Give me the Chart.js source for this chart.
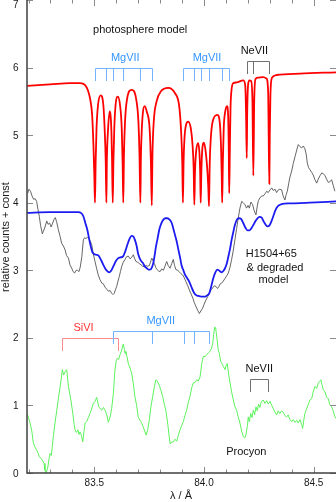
<!DOCTYPE html>
<html>
<head>
<meta charset="utf-8">
<script src="https://cdn.jsdelivr.net/npm/chart.js@4.4.0/dist/chart.umd.min.js"></script>
<style>
html, body { margin: 0; padding: 0; background: #fff; }
canvas { display: block; }
</style>
</head>
<body>
<canvas id="spektrum" width="336" height="502"></canvas>
<script>
// photosphere model (red)
const modelX = [83.193, 83.298, 83.389, 83.435, 83.458, 83.471, 83.480, 83.490, 83.496, 83.500, 83.503,
  83.506, 83.510, 83.517, 83.529, 83.541, 83.547, 83.552, 83.555,
  83.557, 83.562, 83.570, 83.578, 83.581, 83.584,
  83.587, 83.591, 83.597, 83.607, 83.617, 83.625, 83.629, 83.632,
  83.635, 83.640, 83.649, 83.670, 83.691, 83.701, 83.706, 83.710,
  83.712, 83.716, 83.722, 83.730, 83.739, 83.752, 83.758, 83.762,
  83.765, 83.771, 83.784, 83.804, 83.837, 83.868, 83.886, 83.895, 83.901, 83.904,
  83.907, 83.911, 83.918, 83.928, 83.940, 83.948, 83.953, 83.956,
  83.959, 83.964, 83.973, 83.980, 83.983, 83.985,
  83.988, 83.992, 84.000, 84.008, 84.016, 84.020, 84.023,
  84.026, 84.031, 84.041, 84.061, 84.073, 84.078, 84.081, 84.083,
  84.086, 84.090, 84.097, 84.105, 84.110, 84.113, 84.115,
  84.118, 84.121, 84.126, 84.134, 84.149, 84.179, 84.188, 84.192, 84.195,
  84.197, 84.201, 84.207, 84.215, 84.221, 84.225,
  84.229, 84.235, 84.246, 84.270, 84.285, 84.293, 84.295, 84.298,
  84.300, 84.303, 84.310, 84.331, 84.438, 84.602];
const modelY = [5.73, 5.75, 5.77, 5.77, 5.74, 5.66, 5.55, 5.30, 4.85, 4.40, 4.00,
  4.60, 5.10, 5.45, 5.59, 5.45, 5.10, 4.60, 4.00,
  4.60, 5.05, 5.35, 5.05, 4.60, 4.00,
  4.60, 5.10, 5.45, 5.57, 5.45, 5.10, 4.60, 4.00,
  4.70, 5.20, 5.53, 5.67, 5.53, 5.20, 4.70, 4.00,
  4.60, 5.05, 5.35, 5.43, 5.35, 5.10, 4.60, 3.96,
  4.70, 5.20, 5.50, 5.65, 5.70, 5.62, 5.45, 5.10, 4.60, 4.00,
  4.60, 4.95, 5.15, 5.20, 5.10, 4.85, 4.50, 3.97,
  4.45, 4.75, 4.88, 4.70, 4.40, 4.00,
  4.45, 4.78, 4.89, 4.75, 4.45, 4.20, 3.95,
  4.55, 4.95, 5.22, 5.30, 5.15, 4.80, 4.40, 4.00,
  4.60, 5.10, 5.35, 5.43, 5.30, 4.80, 4.14,
  4.80, 5.40, 5.68, 5.77, 5.78, 5.81, 5.74, 5.30, 4.66,
  5.30, 5.74, 5.81, 5.80, 5.50, 4.40,
  5.50, 5.83, 5.85, 5.86, 5.84, 5.60, 5.00, 4.28,
  5.00, 5.60, 5.85, 5.89, 5.91, 5.93];

// H1504+65 observed (grey)
const obsX = [83.196, 83.202, 83.209, 83.216, 83.223, 83.230, 83.237, 83.243, 83.249, 83.255,
  83.263, 83.268, 83.275, 83.283, 83.289, 83.296, 83.303, 83.310, 83.316, 83.322,
  83.328, 83.336, 83.344, 83.351, 83.359, 83.367, 83.373, 83.382, 83.389, 83.397,
  83.403, 83.410, 83.417, 83.423, 83.430, 83.436, 83.443, 83.450, 83.455, 83.462,
  83.469, 83.477, 83.483, 83.488, 83.495, 83.503, 83.511, 83.518, 83.526, 83.534,
  83.541, 83.549, 83.557, 83.564, 83.572, 83.579, 83.585, 83.591, 83.597, 83.602,
  83.608, 83.614, 83.619, 83.625, 83.632, 83.640, 83.647, 83.655, 83.663, 83.670,
  83.678, 83.684, 83.690, 83.697, 83.705, 83.713, 83.721, 83.728, 83.736, 83.743,
  83.751, 83.756, 83.762, 83.768, 83.774, 83.780, 83.786, 83.793, 83.800, 83.807,
  83.815, 83.822, 83.830, 83.837, 83.845, 83.853, 83.860, 83.866, 83.872, 83.880,
  83.887, 83.895, 83.903, 83.910, 83.918, 83.926, 83.933, 83.941, 83.949, 83.956,
  83.964, 83.971, 83.979, 83.986, 83.994, 84.001, 84.009, 84.017, 84.024, 84.032,
  84.040, 84.047, 84.055, 84.062, 84.068, 84.074, 84.081, 84.088, 84.096, 84.104,
  84.111, 84.119, 84.126, 84.134, 84.141, 84.149, 84.156, 84.164, 84.172, 84.179,
  84.187, 84.194, 84.201, 84.207, 84.214, 84.222, 84.229, 84.237, 84.243, 84.248,
  84.255, 84.263, 84.270, 84.278, 84.286, 84.293, 84.301, 84.309, 84.316, 84.324,
  84.331, 84.339, 84.346, 84.354, 84.361, 84.369, 84.375, 84.380, 84.386, 84.392,
  84.400, 84.407, 84.415, 84.423, 84.430, 84.438, 84.445, 84.453, 84.460, 84.466,
  84.471, 84.477, 84.483, 84.491, 84.498, 84.506, 84.514, 84.521, 84.529, 84.537,
  84.544, 84.552, 84.559, 84.567, 84.574, 84.582, 84.589, 84.597];
const obsY = [4.14, 4.20, 4.17, 4.10, 4.05, 4.06, 4.02, 3.90, 3.80, 3.66,
  3.54, 3.58, 3.64, 3.73, 3.68, 3.70, 3.64, 3.70, 3.75, 3.78,
  3.72, 3.60, 3.50, 3.40, 3.36, 3.30, 3.22, 3.18, 3.08, 3.03,
  2.98, 2.96, 3.00, 3.00, 2.98, 3.05, 3.20, 3.45, 3.48, 3.47,
  3.49, 3.46, 3.42, 3.38, 3.25, 3.13, 3.02, 2.93, 2.86, 2.81,
  2.80, 2.75, 2.72, 2.69, 2.70, 2.66, 2.64, 2.66, 2.72, 2.76,
  2.84, 2.91, 2.98, 3.06, 3.12, 3.16, 3.20, 3.21, 3.17, 3.19,
  3.23, 3.17, 3.13, 3.12, 3.10, 3.08, 3.06, 3.05, 3.07, 3.06,
  3.07, 3.12, 3.18, 3.14, 3.10, 3.04, 3.01, 2.99, 2.98, 3.02,
  3.00, 3.06, 3.13, 3.07, 3.03, 3.10, 3.16, 3.07, 3.01, 3.00,
  2.98, 2.95, 2.93, 2.89, 2.83, 2.77, 2.71, 2.65, 2.59, 2.52,
  2.46, 2.41, 2.36, 2.40, 2.44, 2.50, 2.56, 2.61, 2.66, 2.71,
  2.74, 2.77, 2.76, 2.73, 2.76, 2.80, 2.81, 2.84, 2.88, 2.92,
  2.96, 3.05, 3.16, 3.30, 3.45, 3.62, 3.77, 3.92, 4.02, 4.00,
  3.97, 3.92, 3.96, 3.92, 4.01, 3.97, 3.88, 3.82, 3.95, 4.03,
  4.07, 4.10, 4.10, 4.13, 4.17, 4.15, 4.19, 4.22, 4.18, 4.20,
  4.15, 4.19, 4.20, 4.19, 4.10, 4.04, 4.12, 4.17, 4.28, 4.38,
  4.47, 4.58, 4.68, 4.78, 4.86, 4.83, 4.81, 4.84, 4.80, 4.72,
  4.59, 4.52, 4.49, 4.45, 4.41, 4.34, 4.29, 4.35, 4.40, 4.44,
  4.43, 4.40, 4.35, 4.30, 4.31, 4.34, 4.26, 4.17];

// degraded model (blue)
const degX = [83.190, 83.298, 83.427, 83.439, 83.450, 83.459, 83.468, 83.476, 83.484, 83.491,
  83.499, 83.508, 83.518, 83.526, 83.534, 83.541, 83.549, 83.558, 83.567, 83.576,
  83.587, 83.597, 83.609, 83.619, 83.632, 83.641, 83.650, 83.660, 83.670, 83.678,
  83.685, 83.693, 83.700, 83.711, 83.721, 83.730, 83.739, 83.747, 83.754, 83.762,
  83.769, 83.775, 83.781, 83.789, 83.796, 83.805, 83.815, 83.824, 83.833, 83.843,
  83.853, 83.860, 83.868, 83.876, 83.883, 83.891, 83.898, 83.906, 83.913, 83.922,
  83.933, 83.942, 83.951, 83.961, 83.974, 83.989, 84.005, 84.015, 84.024, 84.033,
  84.042, 84.052, 84.061, 84.071, 84.081, 84.088, 84.096, 84.104, 84.111, 84.119,
  84.126, 84.134, 84.141, 84.150, 84.160, 84.169, 84.179, 84.189, 84.198, 84.207,
  84.216, 84.225, 84.235, 84.244, 84.253, 84.263, 84.271, 84.280, 84.289, 84.298,
  84.307, 84.316, 84.326, 84.337, 84.354, 84.392, 84.483, 84.605];
const degY = [3.85, 3.86, 3.86, 3.85, 3.80, 3.70, 3.60, 3.47, 3.35, 3.27,
  3.24, 3.23, 3.22, 3.18, 3.13, 3.08, 3.03, 2.99, 2.97, 2.99,
  3.06, 3.13, 3.18, 3.19, 3.21, 3.28, 3.37, 3.46, 3.51, 3.50,
  3.45, 3.36, 3.24, 3.15, 3.11, 3.06, 3.03, 3.01, 3.01, 3.04,
  3.11, 3.22, 3.35, 3.48, 3.60, 3.69, 3.75, 3.77, 3.77, 3.75,
  3.70, 3.62, 3.52, 3.42, 3.31, 3.19, 3.07, 3.00, 2.94, 2.89,
  2.83, 2.76, 2.69, 2.64, 2.62, 2.61, 2.61, 2.63, 2.66, 2.76,
  2.88, 2.97, 3.01, 2.99, 2.97, 2.99, 3.03, 3.10, 3.20, 3.32,
  3.45, 3.57, 3.67, 3.75, 3.77, 3.76, 3.70, 3.63, 3.59, 3.59,
  3.62, 3.67, 3.73, 3.77, 3.79, 3.78, 3.73, 3.68, 3.65, 3.66,
  3.72, 3.80, 3.89, 3.95, 3.98, 3.99, 4.00, 4.02];

// Procyon (green)
const procX = [83.192, 83.199, 83.207, 83.215, 83.222, 83.230, 83.237, 83.243, 83.249, 83.256,
  83.263, 83.271, 83.275, 83.280, 83.288, 83.294, 83.298, 83.304, 83.313, 83.321,
  83.329, 83.336, 83.344, 83.350, 83.354, 83.360, 83.367, 83.374, 83.382, 83.393,
  83.402, 83.408, 83.412, 83.418, 83.425, 83.430, 83.435, 83.441, 83.447, 83.453,
  83.458, 83.465, 83.473, 83.480, 83.488, 83.495, 83.503, 83.511, 83.520, 83.527,
  83.534, 83.541, 83.549, 83.557, 83.564, 83.572, 83.579, 83.587, 83.594, 83.600,
  83.605, 83.611, 83.617, 83.623, 83.628, 83.632, 83.637, 83.640, 83.644, 83.649,
  83.655, 83.663, 83.670, 83.678, 83.685, 83.693, 83.700, 83.708, 83.716, 83.723,
  83.730, 83.736, 83.743, 83.751, 83.758, 83.766, 83.774, 83.781, 83.787, 83.796,
  83.804, 83.812, 83.819, 83.827, 83.835, 83.842, 83.846, 83.853, 83.860, 83.868,
  83.876, 83.883, 83.891, 83.898, 83.906, 83.913, 83.921, 83.928, 83.936, 83.944,
  83.951, 83.959, 83.967, 83.974, 83.982, 83.990, 83.997, 84.005, 84.012, 84.020,
  84.027, 84.035, 84.040, 84.044, 84.049, 84.053, 84.059, 84.065, 84.070, 84.076,
  84.082, 84.088, 84.096, 84.102, 84.106, 84.113, 84.119, 84.126, 84.134, 84.141,
  84.149, 84.156, 84.164, 84.172, 84.179, 84.186, 84.191, 84.198, 84.202, 84.207,
  84.213, 84.219, 84.225, 84.231, 84.237, 84.243, 84.249, 84.255, 84.261, 84.270,
  84.278, 84.286, 84.293, 84.301, 84.309, 84.316, 84.324, 84.331, 84.339, 84.346,
  84.354, 84.361, 84.369, 84.377, 84.384, 84.392, 84.400, 84.407, 84.415, 84.423,
  84.430, 84.438, 84.445, 84.450, 84.456, 84.460, 84.468, 84.475, 84.483, 84.491,
  84.498, 84.506, 84.514, 84.521, 84.529, 84.533, 84.539, 84.544, 84.552, 84.559,
  84.567, 84.574, 84.582, 84.589, 84.597, 84.605];
const procY = [0.88, 0.83, 0.74, 0.62, 0.44, 0.38, 0.34, 0.30, 0.24, 0.22,
  0.19, 0.14, 0.04, 0.00, 0.09, 0.22, 0.29, 0.26, 0.54, 0.75,
  0.93, 1.10, 1.28, 1.42, 1.53, 1.45, 1.50, 1.53, 1.28, 1.08,
  0.88, 0.72, 0.64, 0.60, 0.64, 0.57, 0.61, 0.56, 0.46, 0.62,
  0.74, 0.76, 0.82, 0.88, 0.95, 1.03, 1.06, 1.12, 0.98, 0.95,
  0.93, 0.97, 0.93, 0.86, 0.75, 0.83, 0.95, 1.18, 1.53, 1.66,
  1.70, 1.68, 1.75, 1.80, 1.86, 1.91, 1.83, 1.77, 1.80, 1.72,
  1.62, 1.55, 1.48, 1.32, 1.13, 1.00, 0.83, 0.78, 0.74, 0.68,
  0.62, 0.56, 0.63, 0.79, 0.98, 1.13, 1.28, 1.38, 1.36, 1.30,
  1.22, 1.13, 1.02, 0.91, 0.72, 0.52, 0.43, 0.46, 0.46, 0.50,
  0.47, 0.56, 0.64, 0.70, 0.76, 0.85, 0.93, 1.04, 1.13, 1.26,
  1.33, 1.34, 1.38, 1.36, 1.42, 1.62, 1.73, 1.72, 1.75, 1.78,
  1.80, 1.85, 1.92, 2.05, 2.16, 2.15, 2.00, 1.82, 1.77, 1.65,
  1.62, 1.58, 1.53, 1.60, 1.62, 1.45, 1.33, 1.20, 1.08, 0.98,
  0.93, 0.83, 0.74, 0.62, 0.54, 0.52, 0.56, 0.70, 0.83, 0.76,
  0.88, 0.82, 0.93, 0.86, 0.98, 0.92, 1.02, 0.97, 1.05, 1.08,
  1.03, 1.07, 1.02, 1.06, 1.00, 0.95, 0.90, 0.86, 0.92, 0.88,
  0.92, 0.90, 0.85, 0.83, 0.86, 0.79, 0.76, 0.79, 0.75, 0.78,
  0.74, 0.79, 0.72, 0.66, 0.80, 0.88, 0.95, 1.01, 1.08, 1.10,
  1.20, 1.28, 1.25, 1.33, 1.36, 1.38, 1.30, 1.23, 1.20, 1.12,
  1.10, 1.01, 0.98, 0.92, 0.83, 0.80];

// axis ticks
const xTickVals = [83.2, 83.3, 83.4, 83.5, 83.6, 83.7, 83.8, 83.9, 84.0, 84.1, 84.2, 84.3, 84.4, 84.5, 84.6];
const xLabelVals = [83.5, 84.0, 84.5];
const xLabelText = ['83.5', '84.0', '84.5'];
const yTickVals = [0, 1, 2, 3, 4, 5, 6, 7];

// line identifications (wavelengths)
const mgTopA = [83.503, 83.555, 83.584, 83.632, 83.710, 83.762];
const mgTopB = [83.904, 83.956, 83.985, 84.023, 84.083, 84.115];
const neTop = [84.195, 84.225, 84.298];
const siBottom = [83.351, 83.607];
const mgBottom = [83.584, 83.762, 83.907, 83.956, 84.024];
const neBottom = [84.211, 84.290];

const blueId = '#74b4ff';
const blueTxt = '#3496ff';

const brackets = [
  { lines: mgTopA, top: 6.00, foot: 5.80, color: blueId },
  { lines: mgTopB, top: 6.00, foot: 5.80, color: blueId },
  { lines: neTop, top: 6.09, foot: 5.90, color: '#707070' },
  { lines: siBottom, top: 2.00, foot: 1.80, color: '#ff8c8c' },
  { lines: mgBottom, top: 2.10, foot: 1.91, color: blueId },
  { lines: neBottom, top: 1.39, foot: 1.20, color: '#707070' }
];

const notes = [
  { text: 'photosphere model', x: 83.494, y: 6.51, align: 'left', color: '#111' },
  { text: 'MgVII', x: 83.641, y: 6.10, color: blueTxt },
  { text: 'MgVII', x: 84.014, y: 6.10, color: blueTxt },
  { text: 'NeVII', x: 84.230, y: 6.20, color: '#111' },
  { text: 'H1504+65', x: 84.307, y: 3.195, color: '#111' },
  { text: '& degraded', x: 84.324, y: 2.99, color: '#111' },
  { text: 'model', x: 84.317, y: 2.81, color: '#111' },
  { text: 'SiVI', x: 83.451, y: 2.10, color: '#ff3333' },
  { text: 'MgVII', x: 83.803, y: 2.20, color: blueTxt },
  { text: 'NeVII', x: 84.252, y: 1.49, color: '#111' },
  { text: 'Procyon', x: 84.193, y: 0.264, color: '#111' }
];

const FONT = '"Liberation Sans", Arial, Helvetica, sans-serif';

function pairs(xs, ys) {
  return xs.map((x, i) => ({ x: x, y: ys[i] }));
}

const decor = {
  id: 'decor',
  afterDatasetsDraw(chart) {
    const { ctx, chartArea: area, scales } = chart;
    const X = v => scales.x.getPixelForValue(v);
    const Y = v => scales.y.getPixelForValue(v);
    ctx.save();

    // ticks, inward on all four sides
    ctx.strokeStyle = '#8a8a8a';
    ctx.lineWidth = 1;
    ctx.beginPath();
    xTickVals.forEach(v => {
      const px = Math.round(X(v)) + 0.5;
      const len = xLabelVals.includes(v) ? 6 : 3.5;
      ctx.moveTo(px, area.bottom);
      ctx.lineTo(px, area.bottom - len);
      ctx.moveTo(px, area.top);
      ctx.lineTo(px, area.top + len);
    });
    yTickVals.forEach(v => {
      const py = Math.round(Y(v)) + 0.5;
      ctx.moveTo(area.left, py);
      ctx.lineTo(area.left + 6, py);
      ctx.moveTo(area.right, py);
      ctx.lineTo(area.right - 6, py);
    });
    ctx.stroke();

    // axis lines
    ctx.strokeStyle = '#404040';
    ctx.lineWidth = 1.5;
    ctx.beginPath();
    ctx.moveTo(area.left, area.top);
    ctx.lineTo(area.left, area.bottom);
    ctx.lineTo(area.right, area.bottom);
    ctx.stroke();

    // tick labels
    ctx.fillStyle = '#1a1a1a';
    ctx.font = '10px ' + FONT;
    ctx.textAlign = 'center';
    ctx.textBaseline = 'alphabetic';
    xLabelVals.forEach((v, i) => ctx.fillText(xLabelText[i], X(v), 486));
    ctx.textAlign = 'right';
    yTickVals.forEach(v => ctx.fillText(String(v), 18.5, Math.max(8, Y(v) + 3.6)));

    // axis titles
    ctx.font = '11px ' + FONT;
    ctx.textAlign = 'center';
    ctx.fillText('λ / Å', 181, 499);
    ctx.save();
    ctx.translate(9, 237);
    ctx.rotate(-Math.PI / 2);
    ctx.fillText('relative counts + const', 0, 0);
    ctx.restore();

    // line identification brackets
    ctx.lineWidth = 1;
    brackets.forEach(b => {
      const top = Math.round(Y(b.top)) + 0.5;
      const foot = Math.round(Y(b.foot));
      ctx.strokeStyle = b.color;
      ctx.beginPath();
      ctx.moveTo(Math.round(X(b.lines[0])) + 0.5, top);
      ctx.lineTo(Math.round(X(b.lines[b.lines.length - 1])) + 0.5, top);
      b.lines.forEach(l => {
        const px = Math.round(X(l)) + 0.5;
        ctx.moveTo(px, top);
        ctx.lineTo(px, foot);
      });
      ctx.stroke();
    });

    // labels
    ctx.font = '11px ' + FONT;
    notes.forEach(n => {
      ctx.fillStyle = n.color;
      ctx.textAlign = n.align || 'center';
      ctx.fillText(n.text, X(n.x), Y(n.y));
    });
    ctx.restore();
  }
};

const ctx = document.getElementById('spektrum').getContext('2d');
new Chart(ctx, {
  type: 'line',
  data: {
    datasets: [
      { data: pairs(modelX, modelY), borderColor: '#ff0000', borderWidth: 1.8, cubicInterpolationMode: 'monotone', order: 0 },
      { data: pairs(degX, degY), borderColor: '#1c1cf0', borderWidth: 1.8, cubicInterpolationMode: 'monotone', order: 1 },
      { data: pairs(obsX, obsY), borderColor: '#555555', borderWidth: 0.9, order: 2 },
      { data: pairs(procX, procY), borderColor: '#5cf25c', borderWidth: 1, order: 3 }
    ]
  },
  options: {
    responsive: false,
    animation: false,
    events: [],
    layout: { padding: { left: 27, right: 0, top: 0, bottom: 29 } },
    elements: { point: { radius: 0 }, line: { tension: 0, fill: false } },
    plugins: { legend: { display: false }, tooltip: { enabled: false } },
    scales: {
      x: { type: 'linear', min: 83.193, max: 84.602, display: false },
      y: { min: 0, max: 7, display: false }
    }
  },
  plugins: [decor]
});
</script>
</body>
</html>
